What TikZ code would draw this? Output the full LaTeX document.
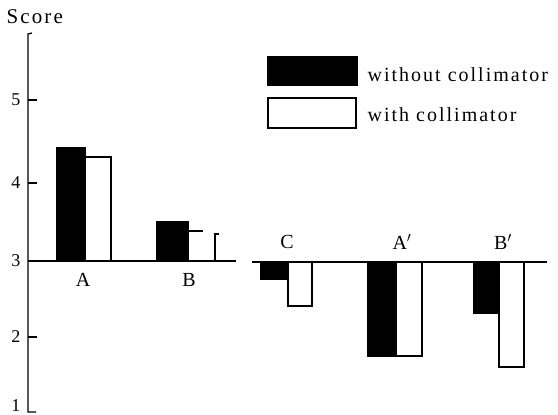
\documentclass[tikz,border=0pt]{standalone}
\usepackage{fontspec}
\setmainfont{Liberation Serif}
\newfontfamily\legfont[LetterSpace=10]{Liberation Serif}
\begin{document}
\begin{tikzpicture}[x=1pt,y=-1pt,line width=1.3pt,
  blackbar/.style={fill=black,draw=black},
  whitebar/.style={fill=white,draw=black},
  lbl/.style={font=\fontsize{20}{20}\selectfont,inner sep=0pt},
  num/.style={font=\fontsize{18}{18}\selectfont,inner sep=0pt,anchor=east},
  leg/.style={font=\legfont\fontsize{20}{20}\selectfont,inner sep=0pt,anchor=west}]
\useasboundingbox (0,0) rectangle (558,415);
% axis
\coordinate (top) at (28,34);
\coordinate (bot) at (28,412);
\draw (32,33) -- (top) -- (bot) -- (36,412);
\foreach \y/\t in {100/5,183/4,261/3,337/2,406/1}{
  \node[num] (n\t) at (21,\y) {\t};
}
\foreach \y in {100,183,337}{ \draw (28,\y) -- (37,\y); }
\node[font=\legfont\fontsize{21}{21}\selectfont,inner sep=0pt,anchor=west] (score) at (6,17) {Score};
% baselines
\draw (28,261) -- (236,261);
\draw (252,262) -- (547,262);
% A
\draw[whitebar] (85,261) rectangle (111,157);
\draw[blackbar] (57,261) rectangle (85,148);
\node[lbl] (la) at (83,280) {A};
% B
\draw[blackbar] (157,261) rectangle (188,222);
\draw (188,231) -- (203,231);
\draw (215,261) -- (215,234) -- (219,234);
\node[lbl] (lb) at (189,280) {B};
% C
\draw[whitebar] (288,262) rectangle (312,306);
\draw[blackbar] (261,262) rectangle (288,279);
\node[lbl] (lc) at (287,242) {C};
% A'
\draw[whitebar] (396,262) rectangle (422,356);
\draw[blackbar] (368,262) rectangle (396,356);
\node[lbl] (lap) at (402,242) {A$'$};
% B'
\draw[whitebar] (499,262) rectangle (524,367);
\draw[blackbar] (474,262) rectangle (499,313);
\node[lbl] (lbp) at (503,242) {B$'$};
% legend
\draw[blackbar] (268,57) rectangle (357,85);
\draw[whitebar] (268,98) rectangle (356,128);
\node[leg] (l1) at (367,75) {without collimator};
\node[leg] (l2) at (367,115) {with collimator};
\end{tikzpicture}
\end{document}
